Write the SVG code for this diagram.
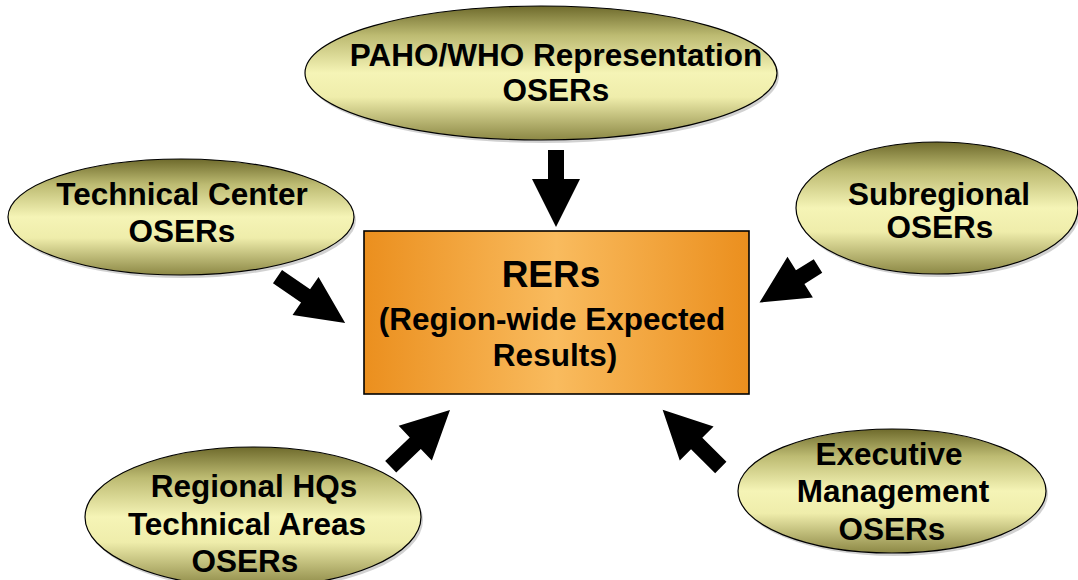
<svg xmlns="http://www.w3.org/2000/svg" width="1078" height="580" viewBox="0 0 1078 580">
<defs>
<linearGradient id="ellG" x1="0" y1="0" x2="0" y2="1">
<stop offset="0" stop-color="#6e6a2c"/>
<stop offset="0.22" stop-color="#bdbb72"/>
<stop offset="0.5" stop-color="#f5f4b6"/>
<stop offset="0.68" stop-color="#efedab"/>
<stop offset="1" stop-color="#8c8845"/>
</linearGradient>
<linearGradient id="rectG" x1="0" y1="0" x2="1" y2="0">
<stop offset="0" stop-color="#eb8f1e"/>
<stop offset="0.5" stop-color="#f9bb5e"/>
<stop offset="1" stop-color="#eb8f1e"/>
</linearGradient>
</defs>
<style>
.ell{fill:url(#ellG);stroke:#000;stroke-width:1.2}
.sh{fill:#9a9a9a;opacity:0.45}
.t{font-family:"Liberation Sans",Arial,sans-serif;font-weight:bold;font-size:31.5px;fill:#000;text-anchor:middle}
.arr{fill:#000}
</style>
<g id="connectors">
<path class="arr" transform="translate(556,150) rotate(90)" d="M0,-8 H29 V-24 L77,0 L29,24 V8 H0 Z"/>
<path class="arr" transform="translate(277.5,276.7) rotate(34.4)" d="M0,-8 H34 V-23 L82,0 L34,23 V8 H0 Z"/>
<path class="arr" transform="translate(818,266) rotate(148)" d="M0,-8 H21 V-24 L69,0 L21,24 V8 H0 Z"/>
<path class="arr" transform="translate(390.7,466.7) rotate(-43.7)" d="M0,-8 H34 V-24 L82,0 L34,24 V8 H0 Z"/>
<path class="arr" transform="translate(720.8,467.5) rotate(-135.2)" d="M0,-8 H34 V-24 L82,0 L34,24 V8 H0 Z"/>
</g>
<g id="rers">
<rect x="364" y="231" width="385" height="163" fill="url(#rectG)" stroke="#000" stroke-width="1.6"/>
<text class="t" x="551" y="287" style="font-size:37px">RERs</text>
<text class="t" x="552" y="330">(Region-wide Expected</text>
<text class="t" x="555" y="366">Results)</text>
</g>
<g id="paho">
<ellipse class="sh" cx="543" cy="76" rx="236" ry="67"/>
<ellipse class="ell" cx="541" cy="73" rx="236" ry="67"/>
<text class="t" x="556" y="66">PAHO/WHO Representation</text>
<text class="t" x="556" y="101">OSERs</text>
</g>
<g id="techcenter">
<ellipse class="sh" cx="183" cy="220" rx="173" ry="58"/>
<ellipse class="ell" cx="181" cy="217" rx="173" ry="58"/>
<text class="t" x="182" y="205">Technical Center</text>
<text class="t" x="182" y="242">OSERs</text>
</g>
<g id="subregional">
<ellipse class="sh" cx="939" cy="211" rx="141" ry="66"/>
<ellipse class="ell" cx="937" cy="208" rx="141" ry="66"/>
<text class="t" x="939" y="205">Subregional</text>
<text class="t" x="940" y="238">OSERs</text>
</g>
<g id="regionalhq">
<ellipse class="sh" cx="255" cy="520" rx="168" ry="70"/>
<ellipse class="ell" cx="253" cy="517" rx="168" ry="70"/>
<text class="t" x="254" y="497">Regional HQs</text>
<text class="t" x="247" y="535">Technical Areas</text>
<text class="t" x="245" y="572">OSERs</text>
</g>
<g id="executive">
<ellipse class="sh" cx="894" cy="494" rx="154" ry="62"/>
<ellipse class="ell" cx="892" cy="491" rx="154" ry="62"/>
<text class="t" x="889" y="465">Executive</text>
<text class="t" x="893" y="502">Management</text>
<text class="t" x="892" y="540">OSERs</text>
</g>
</svg>
